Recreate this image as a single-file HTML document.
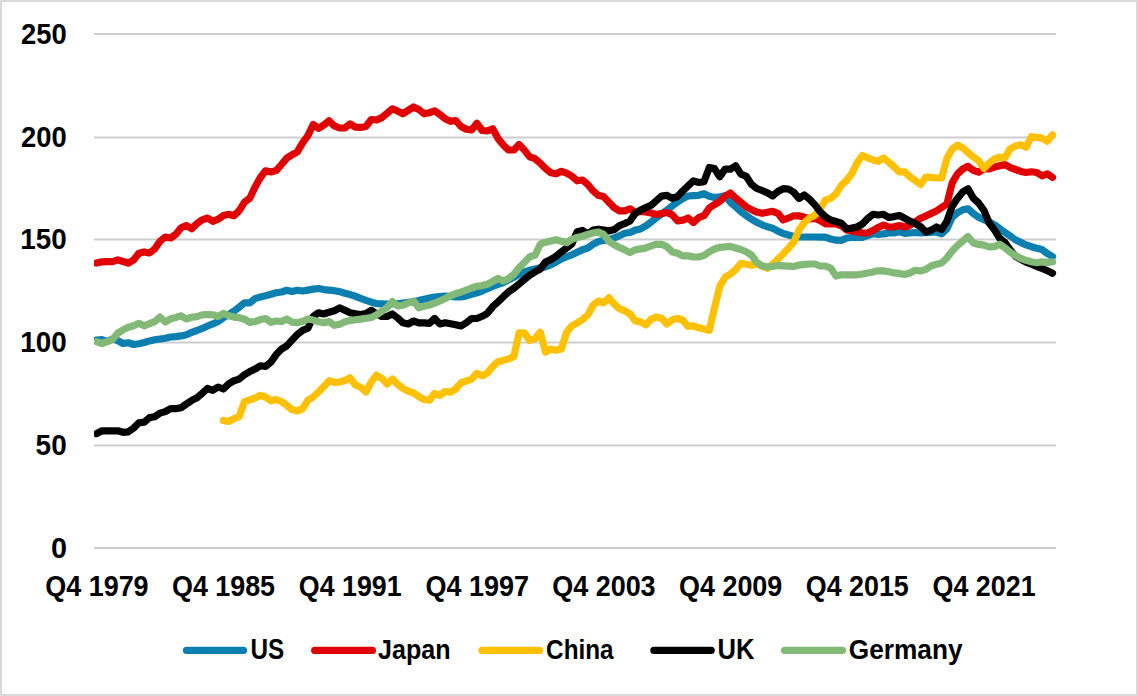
<!DOCTYPE html>
<html><head><meta charset="utf-8"><title>Chart</title>
<style>html,body{margin:0;padding:0;background:#fff;}body{width:1138px;height:696px;overflow:hidden;}svg{display:block;}text{font-family:"Liberation Sans",sans-serif;font-weight:bold;fill:#000;}</style>
</head><body>
<svg width="1138" height="696" viewBox="0 0 1138 696">
<rect x="0" y="0" width="1138" height="696" fill="#ffffff"/>
<rect x="1" y="1" width="1136" height="694" fill="none" stroke="#d9d9d9" stroke-width="2"/>
<line x1="94" y1="34.0" x2="1056" y2="34.0" stroke="#cdcdcd" stroke-width="1.9"/>
<line x1="94" y1="137.45" x2="1056" y2="137.45" stroke="#cdcdcd" stroke-width="1.9"/>
<line x1="94" y1="239.5" x2="1056" y2="239.5" stroke="#cdcdcd" stroke-width="1.9"/>
<line x1="94" y1="342.45" x2="1056" y2="342.45" stroke="#cdcdcd" stroke-width="1.9"/>
<line x1="94" y1="445.5" x2="1056" y2="445.5" stroke="#cdcdcd" stroke-width="1.9"/>
<line x1="94" y1="548.0" x2="1056" y2="548.0" stroke="#cdcdcd" stroke-width="1.9"/>
<defs><clipPath id="pc"><rect x="94" y="0" width="963.2" height="696"/></clipPath></defs>
<g clip-path="url(#pc)" fill="none" stroke-width="7.2" stroke-linejoin="round" stroke-linecap="round">
<path d="M96.6,340.1 L101.9,339.5 L107.2,341.5 L112.5,339.0 L117.8,340.6 L123.0,343.5 L128.3,342.8 L133.6,344.5 L138.9,343.8 L144.2,342.5 L149.5,340.9 L154.7,339.8 L160.0,339.0 L165.3,338.2 L170.6,337.0 L175.9,336.6 L181.1,335.9 L186.4,334.7 L191.7,332.4 L197.0,330.5 L202.3,328.4 L207.5,326.0 L212.8,323.9 L218.1,321.4 L223.4,317.8 L228.7,314.5 L234.0,311.1 L239.2,307.1 L244.5,302.8 L249.8,302.8 L255.1,298.7 L260.4,296.9 L265.6,295.7 L270.9,294.3 L276.2,292.7 L281.5,292.0 L286.8,290.3 L292.0,291.5 L297.3,290.3 L302.6,291.0 L307.9,290.1 L313.2,289.1 L318.5,288.5 L323.7,289.6 L329.0,290.2 L334.3,290.7 L339.6,291.6 L344.9,293.3 L350.1,294.6 L355.4,296.3 L360.7,298.4 L366.0,300.3 L371.3,302.2 L376.5,303.6 L381.8,303.8 L387.1,304.0 L392.4,304.0 L397.7,303.7 L402.9,303.0 L408.2,302.4 L413.5,301.7 L418.8,300.6 L424.1,299.2 L429.4,298.1 L434.6,297.1 L439.9,296.5 L445.2,296.0 L450.5,296.5 L455.8,297.0 L461.0,297.0 L466.3,295.9 L471.6,294.4 L476.9,292.9 L482.2,291.0 L487.4,288.6 L492.7,286.4 L498.0,284.4 L503.3,282.5 L508.6,279.8 L513.9,277.2 L519.1,274.6 L524.4,271.9 L529.7,270.3 L535.0,269.0 L540.3,267.8 L545.5,266.9 L550.8,264.9 L556.1,262.0 L561.4,258.9 L566.7,256.6 L571.9,254.8 L577.2,252.2 L582.5,249.7 L587.8,248.0 L593.1,244.2 L598.4,241.5 L603.6,240.3 L608.9,239.7 L614.2,237.9 L619.5,235.7 L624.8,233.3 L630.0,232.5 L635.3,230.1 L640.6,228.9 L645.9,225.9 L651.2,222.0 L656.4,217.7 L661.7,214.0 L667.0,210.1 L672.3,205.9 L677.6,202.1 L682.9,198.6 L688.1,196.0 L693.4,195.7 L698.7,195.3 L704.0,193.7 L709.3,196.3 L714.5,197.5 L719.8,196.8 L725.1,195.9 L730.4,202.2 L735.7,206.9 L740.9,211.6 L746.2,215.6 L751.5,219.2 L756.8,222.3 L762.1,224.8 L767.4,226.8 L772.6,228.2 L777.9,231.1 L783.2,233.5 L788.5,234.9 L793.8,236.4 L799.0,237.0 L804.3,237.0 L809.6,237.0 L814.9,237.0 L820.2,237.1 L825.4,237.2 L830.7,239.0 L836.0,240.2 L841.3,240.4 L846.6,238.0 L851.9,237.5 L857.1,237.5 L862.4,237.5 L867.7,235.5 L873.0,233.8 L878.3,234.5 L883.5,233.9 L888.8,233.0 L894.1,233.0 L899.4,231.8 L904.7,233.3 L909.9,232.8 L915.2,232.5 L920.5,233.0 L925.8,232.6 L931.1,232.3 L936.4,232.0 L941.6,233.8 L946.9,228.8 L952.2,217.2 L957.5,212.7 L962.8,209.8 L968.0,208.8 L973.3,213.5 L978.6,217.2 L983.9,219.7 L989.2,221.9 L994.4,224.8 L999.7,228.5 L1005.0,232.5 L1010.3,236.0 L1015.6,240.0 L1020.9,242.4 L1026.1,244.9 L1031.4,246.7 L1036.7,248.3 L1042.0,249.6 L1047.3,253.5 L1052.5,256.6" stroke="#0b80b0"/>
<path d="M96.6,263.0 L101.9,261.8 L107.2,261.7 L112.5,261.6 L117.8,259.9 L123.0,261.5 L128.3,263.1 L133.6,260.0 L138.9,253.2 L144.2,251.9 L149.5,253.0 L154.7,249.0 L160.0,241.3 L165.3,237.0 L170.6,238.0 L175.9,234.2 L181.1,227.8 L186.4,225.5 L191.7,228.8 L197.0,223.4 L202.3,219.8 L207.5,218.0 L212.8,221.3 L218.1,219.2 L223.4,215.5 L228.7,214.3 L234.0,215.8 L239.2,210.6 L244.5,202.1 L249.8,198.3 L255.1,186.9 L260.4,177.4 L265.6,170.8 L270.9,172.0 L276.2,170.6 L281.5,164.5 L286.8,158.1 L292.0,154.9 L297.3,151.8 L302.6,142.8 L307.9,135.6 L313.2,124.5 L318.5,128.3 L323.7,125.2 L329.0,120.8 L334.3,125.9 L339.6,128.0 L344.9,127.8 L350.1,123.8 L355.4,127.1 L360.7,127.5 L366.0,126.4 L371.3,119.5 L376.5,120.0 L381.8,117.6 L387.1,113.3 L392.4,108.8 L397.7,111.1 L402.9,113.8 L408.2,110.4 L413.5,107.0 L418.8,109.5 L424.1,113.8 L429.4,112.7 L434.6,110.8 L439.9,114.4 L445.2,118.7 L450.5,121.3 L455.8,120.5 L461.0,126.5 L466.3,129.3 L471.6,130.0 L476.9,123.3 L482.2,130.5 L487.4,130.8 L492.7,128.8 L498.0,138.4 L503.3,145.1 L508.6,150.0 L513.9,150.0 L519.1,144.5 L524.4,150.1 L529.7,156.9 L535.0,158.7 L540.3,163.3 L545.5,168.5 L550.8,172.8 L556.1,173.8 L561.4,171.3 L566.7,173.1 L571.9,176.3 L577.2,180.8 L582.5,180.0 L587.8,184.4 L593.1,190.9 L598.4,195.5 L603.6,196.6 L608.9,202.3 L614.2,207.6 L619.5,210.8 L624.8,210.8 L630.0,208.8 L635.3,212.5 L640.6,211.3 L645.9,211.9 L651.2,213.1 L656.4,214.5 L661.7,213.5 L667.0,212.5 L672.3,214.9 L677.6,220.8 L682.9,220.2 L688.1,218.0 L693.4,222.5 L698.7,217.6 L704.0,215.7 L709.3,208.0 L714.5,204.6 L719.8,201.4 L725.1,196.2 L730.4,193.0 L735.7,198.0 L740.9,202.2 L746.2,206.8 L751.5,209.7 L756.8,212.1 L762.1,213.3 L767.4,212.2 L772.6,211.3 L777.9,213.3 L783.2,220.0 L788.5,218.0 L793.8,215.8 L799.0,215.8 L804.3,217.2 L809.6,218.8 L814.9,218.3 L820.2,220.6 L825.4,223.8 L830.7,223.8 L836.0,223.8 L841.3,225.8 L846.6,230.0 L851.9,231.1 L857.1,232.1 L862.4,232.8 L867.7,233.0 L873.0,230.5 L878.3,227.4 L883.5,225.0 L888.8,227.0 L894.1,226.8 L899.4,225.5 L904.7,227.0 L909.9,225.3 L915.2,222.0 L920.5,218.3 L925.8,216.1 L931.1,213.5 L936.4,210.9 L941.6,207.5 L946.9,204.0 L952.2,182.8 L957.5,173.9 L962.8,169.0 L968.0,166.3 L973.3,170.3 L978.6,172.1 L983.9,168.8 L989.2,168.8 L994.4,167.0 L999.7,165.7 L1005.0,164.5 L1010.3,167.6 L1015.6,169.5 L1020.9,171.4 L1026.1,172.5 L1031.4,171.8 L1036.7,172.5 L1042.0,175.8 L1047.3,173.8 L1052.5,177.4" stroke="#e00000"/>
<path d="M223.4,420.5 L228.7,421.5 L234.0,418.7 L239.2,416.4 L244.5,401.6 L249.8,399.9 L255.1,397.9 L260.4,395.3 L265.6,397.0 L270.9,400.8 L276.2,399.5 L281.5,401.5 L286.8,405.4 L292.0,409.6 L297.3,411.0 L302.6,408.6 L307.9,400.3 L313.2,397.0 L318.5,392.0 L323.7,386.8 L329.0,380.8 L334.3,382.3 L339.6,382.0 L344.9,380.5 L350.1,377.8 L355.4,385.0 L360.7,387.2 L366.0,392.0 L371.3,381.9 L376.5,375.3 L381.8,378.3 L387.1,384.0 L392.4,379.0 L397.7,384.5 L402.9,388.3 L408.2,391.2 L413.5,392.9 L418.8,396.5 L424.1,399.5 L429.4,400.3 L434.6,393.5 L439.9,395.3 L445.2,391.5 L450.5,392.3 L455.8,388.9 L461.0,382.7 L466.3,381.0 L471.6,379.1 L476.9,373.3 L482.2,375.8 L487.4,372.9 L492.7,366.5 L498.0,361.7 L503.3,360.4 L508.6,358.9 L513.9,356.4 L519.1,332.8 L524.4,332.8 L529.7,340.3 L535.0,338.6 L540.3,332.3 L545.5,352.0 L550.8,349.0 L556.1,350.3 L561.4,349.0 L566.7,332.2 L571.9,325.8 L577.2,322.8 L582.5,319.7 L587.8,314.9 L593.1,305.2 L598.4,301.0 L603.6,302.8 L608.9,297.8 L614.2,304.1 L619.5,308.7 L624.8,310.9 L630.0,313.8 L635.3,320.9 L640.6,321.9 L645.9,324.8 L651.2,319.1 L656.4,317.0 L661.7,318.2 L667.0,324.0 L672.3,319.7 L677.6,318.5 L682.9,320.2 L688.1,326.5 L693.4,325.8 L698.7,327.8 L704.0,328.9 L709.3,330.3 L714.5,307.8 L719.8,286.3 L725.1,277.2 L730.4,274.1 L735.7,269.5 L740.9,263.4 L746.2,264.2 L751.5,265.3 L756.8,263.8 L762.1,266.1 L767.4,268.3 L772.6,264.3 L777.9,259.1 L783.2,253.8 L788.5,248.2 L793.8,242.2 L799.0,229.9 L804.3,222.7 L809.6,217.9 L814.9,215.2 L820.2,208.6 L825.4,200.2 L830.7,198.4 L836.0,193.8 L841.3,185.4 L846.6,180.5 L851.9,173.3 L857.1,162.9 L862.4,155.5 L867.7,157.9 L873.0,160.0 L878.3,161.3 L883.5,158.0 L888.8,162.2 L894.1,167.0 L899.4,172.0 L904.7,171.8 L909.9,176.8 L915.2,180.4 L920.5,184.5 L925.8,177.0 L931.1,177.4 L936.4,178.0 L941.6,178.0 L946.9,158.6 L952.2,149.0 L957.5,145.2 L962.8,148.0 L968.0,152.4 L973.3,156.9 L978.6,160.7 L983.9,168.5 L989.2,163.1 L994.4,159.0 L999.7,157.3 L1005.0,157.7 L1010.3,148.7 L1015.6,146.1 L1020.9,144.8 L1026.1,147.2 L1031.4,136.7 L1036.7,137.4 L1042.0,138.1 L1047.3,141.2 L1052.5,134.8" stroke="#ffc000"/>
<path d="M96.6,433.6 L101.9,430.8 L107.2,430.8 L112.5,430.8 L117.8,430.8 L123.0,432.3 L128.3,431.8 L133.6,428.1 L138.9,422.8 L144.2,422.2 L149.5,417.6 L154.7,416.8 L160.0,413.1 L165.3,411.6 L170.6,408.6 L175.9,408.6 L181.1,407.8 L186.4,404.0 L191.7,400.4 L197.0,397.7 L202.3,393.2 L207.5,388.5 L212.8,390.3 L218.1,387.0 L223.4,389.0 L228.7,383.9 L234.0,380.7 L239.2,379.1 L244.5,374.7 L249.8,371.6 L255.1,369.1 L260.4,365.8 L265.6,366.5 L270.9,362.1 L276.2,354.6 L281.5,349.1 L286.8,345.9 L292.0,340.1 L297.3,334.5 L302.6,330.4 L307.9,328.2 L313.2,316.4 L318.5,312.8 L323.7,314.0 L329.0,312.3 L334.3,310.8 L339.6,307.8 L344.9,310.2 L350.1,312.7 L355.4,313.8 L360.7,314.5 L366.0,313.5 L371.3,310.3 L376.5,313.7 L381.8,316.5 L387.1,316.5 L392.4,314.0 L397.7,318.0 L402.9,322.8 L408.2,324.0 L413.5,321.0 L418.8,322.8 L424.1,322.8 L429.4,323.3 L434.6,318.5 L439.9,324.0 L445.2,322.8 L450.5,323.8 L455.8,324.7 L461.0,326.0 L466.3,322.7 L471.6,318.5 L476.9,318.5 L482.2,316.3 L487.4,313.3 L492.7,306.7 L498.0,301.9 L503.3,296.7 L508.6,291.8 L513.9,288.2 L519.1,283.9 L524.4,279.5 L529.7,275.2 L535.0,271.9 L540.3,269.0 L545.5,262.0 L550.8,259.6 L556.1,256.2 L561.4,251.8 L566.7,247.8 L571.9,243.8 L577.2,231.7 L582.5,230.4 L587.8,234.0 L593.1,230.0 L598.4,229.2 L603.6,230.1 L608.9,230.9 L614.2,229.6 L619.5,225.6 L624.8,223.5 L630.0,221.0 L635.3,213.4 L640.6,210.0 L645.9,207.6 L651.2,205.2 L656.4,200.6 L661.7,196.1 L667.0,195.4 L672.3,198.4 L677.6,196.5 L682.9,190.8 L688.1,185.9 L693.4,180.9 L698.7,182.5 L704.0,181.7 L709.3,167.5 L714.5,168.6 L719.8,176.7 L725.1,169.2 L730.4,169.2 L735.7,165.8 L740.9,174.1 L746.2,176.3 L751.5,184.4 L756.8,188.5 L762.1,190.5 L767.4,192.8 L772.6,195.9 L777.9,191.5 L783.2,188.7 L788.5,189.0 L793.8,192.3 L799.0,198.4 L804.3,195.0 L809.6,199.3 L814.9,204.9 L820.2,211.8 L825.4,216.7 L830.7,220.0 L836.0,221.5 L841.3,223.1 L846.6,228.8 L851.9,228.1 L857.1,227.0 L862.4,224.0 L867.7,218.6 L873.0,214.3 L878.3,215.0 L883.5,214.3 L888.8,217.5 L894.1,216.6 L899.4,215.5 L904.7,218.3 L909.9,221.1 L915.2,223.6 L920.5,226.6 L925.8,232.0 L931.1,230.3 L936.4,227.0 L941.6,229.5 L946.9,221.3 L952.2,206.1 L957.5,198.4 L962.8,191.8 L968.0,188.8 L973.3,198.1 L978.6,203.0 L983.9,210.4 L989.2,223.0 L994.4,229.9 L999.7,238.2 L1005.0,242.5 L1010.3,250.0 L1015.6,256.4 L1020.9,259.5 L1026.1,262.1 L1031.4,264.3 L1036.7,266.4 L1042.0,268.5 L1047.3,270.6 L1052.5,273.2" stroke="#000000"/>
<path d="M96.6,341.6 L101.9,343.5 L107.2,341.6 L112.5,339.5 L117.8,333.1 L123.0,329.9 L128.3,327.2 L133.6,325.8 L138.9,323.3 L144.2,325.8 L149.5,323.7 L154.7,321.6 L160.0,317.0 L165.3,322.0 L170.6,318.8 L175.9,317.4 L181.1,315.8 L186.4,319.0 L191.7,317.3 L197.0,316.6 L202.3,314.9 L207.5,314.5 L212.8,314.8 L218.1,316.5 L223.4,313.3 L228.7,315.7 L234.0,317.1 L239.2,317.7 L244.5,319.2 L249.8,322.3 L255.1,321.7 L260.4,319.6 L265.6,318.5 L270.9,322.3 L276.2,321.0 L281.5,321.5 L286.8,319.0 L292.0,322.1 L297.3,322.8 L302.6,321.6 L307.9,319.0 L313.2,320.1 L318.5,321.8 L323.7,322.8 L329.0,321.5 L334.3,325.3 L339.6,324.2 L344.9,321.8 L350.1,320.6 L355.4,319.8 L360.7,319.1 L366.0,318.3 L371.3,317.5 L376.5,314.9 L381.8,311.2 L387.1,307.7 L392.4,301.5 L397.7,306.0 L402.9,305.3 L408.2,303.0 L413.5,301.0 L418.8,307.8 L424.1,306.3 L429.4,305.0 L434.6,303.2 L439.9,300.9 L445.2,298.4 L450.5,295.8 L455.8,293.7 L461.0,292.0 L466.3,290.0 L471.6,288.0 L476.9,286.3 L482.2,285.6 L487.4,284.2 L492.7,281.5 L498.0,278.5 L503.3,281.0 L508.6,278.4 L513.9,274.3 L519.1,267.8 L524.4,262.4 L529.7,256.7 L535.0,255.3 L540.3,244.2 L545.5,242.2 L550.8,240.9 L556.1,239.7 L561.4,241.2 L566.7,242.6 L571.9,239.4 L577.2,237.5 L582.5,236.2 L587.8,234.5 L593.1,233.0 L598.4,232.1 L603.6,234.4 L608.9,241.2 L614.2,244.7 L619.5,247.5 L624.8,249.9 L630.0,252.6 L635.3,249.8 L640.6,248.9 L645.9,247.9 L651.2,245.9 L656.4,244.3 L661.7,244.3 L667.0,246.8 L672.3,251.9 L677.6,253.3 L682.9,255.9 L688.1,255.9 L693.4,256.9 L698.7,257.0 L704.0,255.4 L709.3,251.8 L714.5,249.0 L719.8,247.3 L725.1,246.9 L730.4,246.3 L735.7,248.1 L740.9,249.5 L746.2,251.7 L751.5,255.1 L756.8,262.3 L762.1,265.7 L767.4,267.0 L772.6,266.5 L777.9,265.3 L783.2,265.8 L788.5,266.2 L793.8,266.5 L799.0,265.1 L804.3,264.4 L809.6,264.0 L814.9,264.0 L820.2,266.0 L825.4,266.0 L830.7,268.1 L836.0,276.0 L841.3,274.8 L846.6,274.8 L851.9,274.8 L857.1,274.8 L862.4,274.0 L867.7,273.0 L873.0,272.0 L878.3,270.8 L883.5,270.9 L888.8,271.8 L894.1,272.9 L899.4,273.4 L904.7,274.5 L909.9,273.0 L915.2,270.3 L920.5,271.0 L925.8,269.4 L931.1,266.0 L936.4,264.2 L941.6,263.0 L946.9,258.0 L952.2,250.9 L957.5,245.4 L962.8,240.9 L968.0,236.6 L973.3,243.0 L978.6,244.4 L983.9,245.1 L989.2,246.9 L994.4,246.6 L999.7,244.2 L1005.0,247.9 L1010.3,252.2 L1015.6,255.7 L1020.9,258.5 L1026.1,260.3 L1031.4,261.7 L1036.7,262.7 L1042.0,261.9 L1047.3,262.3 L1052.5,261.9" stroke="#83b976"/>
</g>
<text x="21.05" y="43.75" font-size="28.6" textLength="45.68" lengthAdjust="spacingAndGlyphs">250</text>
<text x="21.05" y="147.20" font-size="28.6" textLength="45.68" lengthAdjust="spacingAndGlyphs">200</text>
<text x="20.37" y="249.25" font-size="28.6" textLength="46.41" lengthAdjust="spacingAndGlyphs">150</text>
<text x="20.37" y="352.20" font-size="28.6" textLength="46.41" lengthAdjust="spacingAndGlyphs">100</text>
<text x="35.62" y="455.25" font-size="28.6" textLength="31.08" lengthAdjust="spacingAndGlyphs">50</text>
<text x="50.91" y="557.75" font-size="28.6" textLength="16.01" lengthAdjust="spacingAndGlyphs">0</text>
<text x="45.20" y="596.00" font-size="28.6" textLength="103.43" lengthAdjust="spacingAndGlyphs">Q4 1979</text>
<text x="172.02" y="596.00" font-size="28.6" textLength="103.01" lengthAdjust="spacingAndGlyphs">Q4 1985</text>
<text x="298.79" y="596.00" font-size="28.6" textLength="102.85" lengthAdjust="spacingAndGlyphs">Q4 1991</text>
<text x="425.38" y="596.00" font-size="28.6" textLength="103.60" lengthAdjust="spacingAndGlyphs">Q4 1997</text>
<text x="552.20" y="596.00" font-size="28.6" textLength="103.43" lengthAdjust="spacingAndGlyphs">Q4 2003</text>
<text x="679.02" y="596.00" font-size="28.6" textLength="103.31" lengthAdjust="spacingAndGlyphs">Q4 2009</text>
<text x="805.77" y="596.00" font-size="28.6" textLength="103.01" lengthAdjust="spacingAndGlyphs">Q4 2015</text>
<text x="932.50" y="596.00" font-size="28.6" textLength="103.11" lengthAdjust="spacingAndGlyphs">Q4 2021</text>
<text x="250.40" y="659.10" font-size="28.6" textLength="33.74" lengthAdjust="spacingAndGlyphs">US</text>
<text x="378.05" y="659.10" font-size="27.6" textLength="72.48" lengthAdjust="spacingAndGlyphs">Japan</text>
<text x="546.10" y="659.10" font-size="27.6" textLength="67.52" lengthAdjust="spacingAndGlyphs">China</text>
<text x="717.58" y="659.10" font-size="28.6" textLength="36.94" lengthAdjust="spacingAndGlyphs">UK</text>
<text x="848.85" y="659.10" font-size="27.6" textLength="113.67" lengthAdjust="spacingAndGlyphs">Germany</text>
<line x1="186.5" y1="650.45" x2="243.5" y2="650.45" stroke="#0b80b0" stroke-width="7.2" stroke-linecap="round"/>
<line x1="314.7" y1="650.45" x2="372.4" y2="650.45" stroke="#e00000" stroke-width="7.2" stroke-linecap="round"/>
<line x1="482.1" y1="650.45" x2="539.5" y2="650.45" stroke="#ffc000" stroke-width="7.2" stroke-linecap="round"/>
<line x1="653.9" y1="650.45" x2="711.2" y2="650.45" stroke="#000000" stroke-width="7.2" stroke-linecap="round"/>
<line x1="784.6" y1="650.45" x2="842.5" y2="650.45" stroke="#83b976" stroke-width="7.2" stroke-linecap="round"/>
</svg></body></html>
